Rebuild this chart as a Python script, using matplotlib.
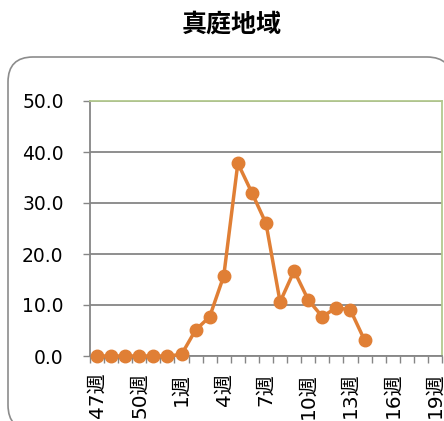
import matplotlib.pyplot as plt
from matplotlib.patches import FancyBboxPatch

weeks = ["47週", "48週", "49週", "50週", "51週", "52週"] + [f"{i}週" for i in range(1, 20)]
values = [0.0, 0.0, 0.0, 0.0, 0.0, 0.0,
          0.3, 5.1, 7.7, 15.7, 37.8, 32.0, 26.0, 10.6, 16.7, 11.0, 7.7, 9.5, 9.0, 3.1]
yticks = [0, 10, 20, 30, 40, 50]

fonts = ['DejaVu Sans', 'Noto Sans CJK JP']
plt.rcParams['font.family'] = fonts

fig = plt.figure(figsize=(4.44, 4.21), dpi=100)

# 角丸の外枠（右と下ははみ出す）
box = FancyBboxPatch((0.08, -0.09), 4.44, 3.73,
                     boxstyle="round,pad=0,rounding_size=0.25",
                     transform=fig.dpi_scale_trans, facecolor='white',
                     edgecolor='#8c8c8c', linewidth=1.2, clip_on=False, zorder=-1)
fig.patches.append(box)

fig.text(232 / 444, 1 - 25 / 421, "真庭地域", ha='center', va='center',
         fontsize=18, fontweight='bold', family=['Noto Sans CJK JP'])

ax = fig.add_axes([90 / 444, 65 / 421, 352 / 444, 255 / 421])
ax.set_facecolor('none')

pos = list(range(len(weeks)))
ax.plot(pos[:len(values)], values, color='#e07f35', linewidth=2.5, marker='o',
        markersize=9, zorder=3, clip_on=False)

ax.set_xlim(-0.5, len(weeks) - 0.5)
ax.set_ylim(0, 50)

ax.set_yticks(yticks)
ax.set_yticklabels([f"{v:.1f}" for v in yticks], fontsize=13.5)
ax.grid(axis='y', color='#868686', linewidth=1.3)
ax.set_axisbelow(True)

# 目盛りは区切り位置、ラベルは3週ごと
ax.set_xticks([i - 0.5 for i in range(len(weeks) + 1)])
ax.set_xticklabels([])
ax.set_xticks(pos[::3], minor=True)
ax.set_xticklabels(weeks[::3], minor=True, rotation=90, fontsize=14.5)
ax.tick_params(axis='x', which='major', length=5, width=1, color='#868686', direction='out')
ax.tick_params(axis='x', which='minor', length=0, pad=12)
ax.tick_params(axis='y', length=5, width=1, color='#868686', pad=14)

for s in ['left', 'bottom']:
    ax.spines[s].set_color('#868686')
    ax.spines[s].set_linewidth(1.3)
for s in ['top', 'right']:
    ax.spines[s].set_color('#b3c98f')
    ax.spines[s].set_linewidth(1.3)

fig.savefig("out.png", dpi=100)
